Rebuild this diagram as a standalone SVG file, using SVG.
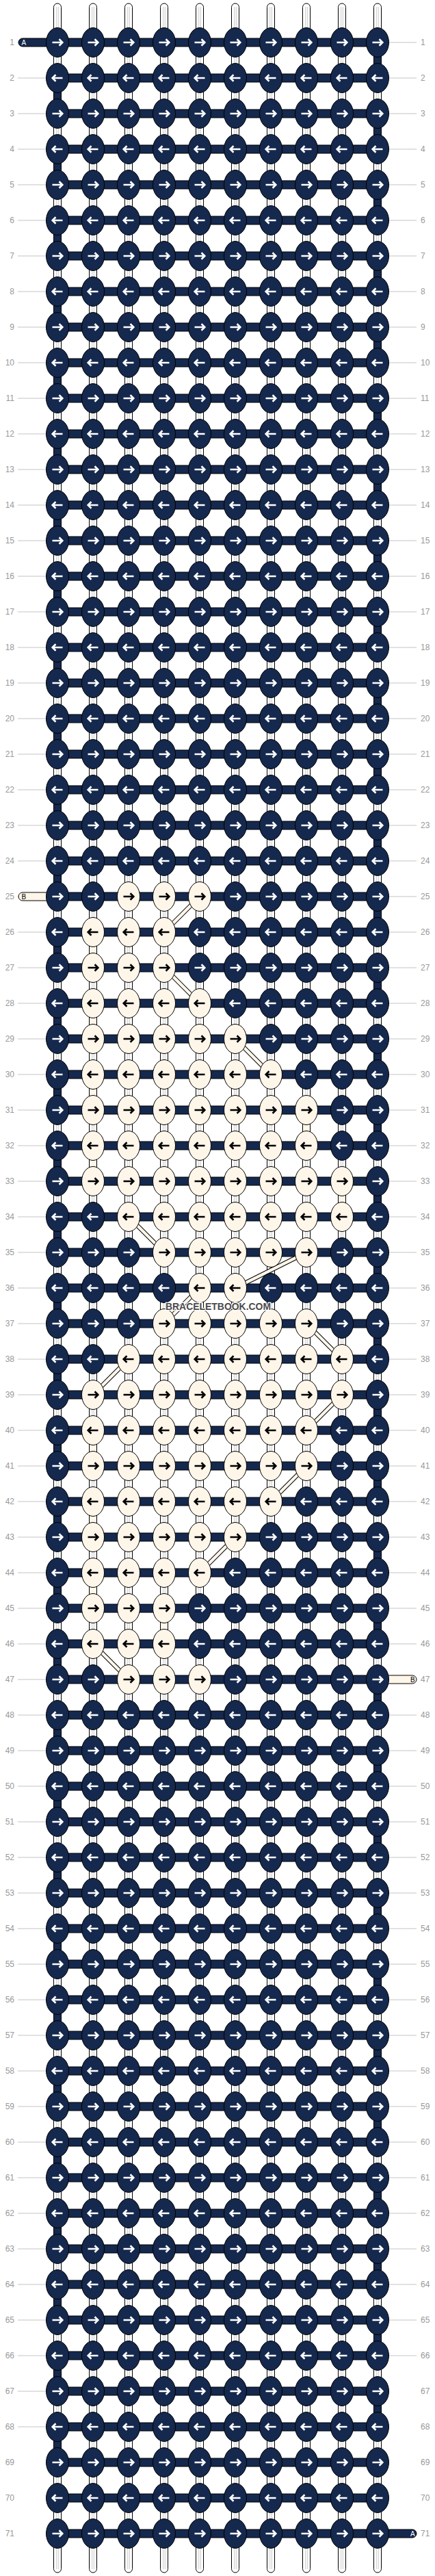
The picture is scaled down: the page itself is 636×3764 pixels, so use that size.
<svg xmlns="http://www.w3.org/2000/svg" width="636" height="3764" viewBox="0 0 636 3764">
<style>
.kn{fill:#15284d;stroke:#000;stroke-width:1}
.kc{fill:#fff6ea;stroke:#000;stroke-width:1}
.aw{fill:none;stroke:#fff;stroke-width:2.6}
.ak{fill:none;stroke:#000;stroke-width:2.6}
.lb{font-family:"Liberation Sans",Arial,sans-serif;font-size:12px;fill:#999}
.le{text-anchor:end}
.ws{fill:#fff;stroke:#000;stroke-width:1}
.wi{fill:none;stroke:#b5b5b5;stroke-width:0.7}
.nv{fill:#15284d;stroke:#000;stroke-width:1}
.cr{fill:#fff6ea;stroke:#000;stroke-width:1}
.gl{fill:none;stroke:#c4c4c4;stroke-width:1}
.tg{font-family:"Liberation Sans",Arial,sans-serif;font-size:10px}
</style>
<defs>
<g id="a"><ellipse rx="16.5" ry="21.5" class="kn"/><path d="M-7.5 0H7M2.5-4.7L7.3 0 2.5 4.7" class="aw"/></g>
<g id="b"><ellipse rx="16.5" ry="21.5" class="kn"/><path d="M7.5 0H-7M-2.5-4.7L-7.3 0-2.5 4.7" class="aw"/></g>
<g id="c"><ellipse rx="16.5" ry="21.5" class="kc"/><path d="M-7.5 0H7M2.5-4.7L7.3 0 2.5 4.7" class="ak"/></g>
<g id="d"><ellipse rx="16.5" ry="21.5" class="kc"/><path d="M7.5 0H-7M-2.5-4.7L-7.3 0-2.5 4.7" class="ak"/></g>
<path id="dg" d="M292 1310L240 1362M240 1414L292 1466M344 1518L396 1570M188 1778L240 1830M448 1830L344 1882M292 1882L240 1934M448 1934L500 1986M188 1986L136 2038M500 2038L448 2090M448 2142L396 2194M344 2246L292 2298M136 2402L188 2454"/>
</defs>
<g id="labels">
<path class="gl" d="M26 62h41m-41 52h41m-41 52h41m-41 52h41m-41 52h41m-41 52h41m-41 52h41m-41 52h41m-41 52h41m-41 52h41m-41 52h41m-41 52h41m-41 52h41m-41 52h41m-41 52h41m-41 52h41m-41 52h41m-41 52h41m-41 52h41m-41 52h41m-41 52h41m-41 52h41m-41 52h41m-41 52h41m-41 52h41m-41 52h41m-41 52h41m-41 52h41m-41 52h41m-41 52h41m-41 52h41m-41 52h41m-41 52h41m-41 52h41m-41 52h41m-41 52h41m-41 52h41m-41 52h41m-41 52h41m-41 52h41m-41 52h41m-41 52h41m-41 52h41m-41 52h41m-41 52h41m-41 52h41m-41 52h41m-41 52h41m-41 52h41m-41 52h41m-41 52h41m-41 52h41m-41 52h41m-41 52h41m-41 52h41m-41 52h41m-41 52h41m-41 52h41m-41 52h41m-41 52h41m-41 52h41m-41 52h41m-41 52h41m-41 52h41m-41 52h41m-41 52h41m-41 52h41m-41 52h41"/>
<path class="gl" d="M569 62h40m-40 52h40m-40 52h40m-40 52h40m-40 52h40m-40 52h40m-40 52h40m-40 52h40m-40 52h40m-40 52h40m-40 52h40m-40 52h40m-40 52h40m-40 52h40m-40 52h40m-40 52h40m-40 52h40m-40 52h40m-40 52h40m-40 52h40m-40 52h40m-40 52h40m-40 52h40m-40 52h40m-40 52h40m-40 52h40m-40 52h40m-40 52h40m-40 52h40m-40 52h40m-40 52h40m-40 52h40m-40 52h40m-40 52h40m-40 52h40m-40 52h40m-40 52h40m-40 52h40m-40 52h40m-40 52h40m-40 52h40m-40 52h40m-40 52h40m-40 52h40m-40 52h40m-40 52h40m-40 52h40m-40 52h40m-40 52h40m-40 52h40m-40 52h40m-40 52h40m-40 52h40m-40 52h40m-40 52h40m-40 52h40m-40 52h40m-40 52h40m-40 52h40m-40 52h40m-40 52h40m-40 52h40m-40 52h40m-40 52h40m-40 52h40m-40 52h40"/>
<g class="lb le">
<text x="21" y="66">1</text><text x="21" y="118">2</text><text x="21" y="170">3</text><text x="21" y="222">4</text><text x="21" y="274">5</text><text x="21" y="326">6</text><text x="21" y="378">7</text><text x="21" y="430">8</text><text x="21" y="482">9</text><text x="21" y="534">10</text>
<text x="21" y="586">11</text><text x="21" y="638">12</text><text x="21" y="690">13</text><text x="21" y="742">14</text><text x="21" y="794">15</text><text x="21" y="846">16</text><text x="21" y="898">17</text><text x="21" y="950">18</text><text x="21" y="1002">19</text><text x="21" y="1054">20</text>
<text x="21" y="1106">21</text><text x="21" y="1158">22</text><text x="21" y="1210">23</text><text x="21" y="1262">24</text><text x="21" y="1314">25</text><text x="21" y="1366">26</text><text x="21" y="1418">27</text><text x="21" y="1470">28</text><text x="21" y="1522">29</text><text x="21" y="1574">30</text>
<text x="21" y="1626">31</text><text x="21" y="1678">32</text><text x="21" y="1730">33</text><text x="21" y="1782">34</text><text x="21" y="1834">35</text><text x="21" y="1886">36</text><text x="21" y="1938">37</text><text x="21" y="1990">38</text><text x="21" y="2042">39</text><text x="21" y="2094">40</text>
<text x="21" y="2146">41</text><text x="21" y="2198">42</text><text x="21" y="2250">43</text><text x="21" y="2302">44</text><text x="21" y="2354">45</text><text x="21" y="2406">46</text><text x="21" y="2458">47</text><text x="21" y="2510">48</text><text x="21" y="2562">49</text><text x="21" y="2614">50</text>
<text x="21" y="2666">51</text><text x="21" y="2718">52</text><text x="21" y="2770">53</text><text x="21" y="2822">54</text><text x="21" y="2874">55</text><text x="21" y="2926">56</text><text x="21" y="2978">57</text><text x="21" y="3030">58</text><text x="21" y="3082">59</text><text x="21" y="3134">60</text>
<text x="21" y="3186">61</text><text x="21" y="3238">62</text><text x="21" y="3290">63</text><text x="21" y="3342">64</text><text x="21" y="3394">65</text><text x="21" y="3446">66</text><text x="21" y="3498">67</text><text x="21" y="3550">68</text><text x="21" y="3602">69</text><text x="21" y="3654">70</text>
<text x="21" y="3706">71</text>
</g>
<g class="lb">
<text x="615" y="66">1</text><text x="615" y="118">2</text><text x="615" y="170">3</text><text x="615" y="222">4</text><text x="615" y="274">5</text><text x="615" y="326">6</text><text x="615" y="378">7</text><text x="615" y="430">8</text><text x="615" y="482">9</text><text x="615" y="534">10</text>
<text x="615" y="586">11</text><text x="615" y="638">12</text><text x="615" y="690">13</text><text x="615" y="742">14</text><text x="615" y="794">15</text><text x="615" y="846">16</text><text x="615" y="898">17</text><text x="615" y="950">18</text><text x="615" y="1002">19</text><text x="615" y="1054">20</text>
<text x="615" y="1106">21</text><text x="615" y="1158">22</text><text x="615" y="1210">23</text><text x="615" y="1262">24</text><text x="615" y="1314">25</text><text x="615" y="1366">26</text><text x="615" y="1418">27</text><text x="615" y="1470">28</text><text x="615" y="1522">29</text><text x="615" y="1574">30</text>
<text x="615" y="1626">31</text><text x="615" y="1678">32</text><text x="615" y="1730">33</text><text x="615" y="1782">34</text><text x="615" y="1834">35</text><text x="615" y="1886">36</text><text x="615" y="1938">37</text><text x="615" y="1990">38</text><text x="615" y="2042">39</text><text x="615" y="2094">40</text>
<text x="615" y="2146">41</text><text x="615" y="2198">42</text><text x="615" y="2250">43</text><text x="615" y="2302">44</text><text x="615" y="2354">45</text><text x="615" y="2406">46</text><text x="615" y="2458">47</text><text x="615" y="2510">48</text><text x="615" y="2562">49</text><text x="615" y="2614">50</text>
<text x="615" y="2666">51</text><text x="615" y="2718">52</text><text x="615" y="2770">53</text><text x="615" y="2822">54</text><text x="615" y="2874">55</text><text x="615" y="2926">56</text><text x="615" y="2978">57</text><text x="615" y="3030">58</text><text x="615" y="3082">59</text><text x="615" y="3134">60</text>
<text x="615" y="3186">61</text><text x="615" y="3238">62</text><text x="615" y="3290">63</text><text x="615" y="3342">64</text><text x="615" y="3394">65</text><text x="615" y="3446">66</text><text x="615" y="3498">67</text><text x="615" y="3550">68</text><text x="615" y="3602">69</text><text x="615" y="3654">70</text>
<text x="615" y="3706">71</text>
</g>
</g>
<g id="connectors">
<g id="base-strands" class="ws">
<rect x="78.5" y="5" width="11" height="3754" rx="5.5"/><rect x="130.5" y="5" width="11" height="3754" rx="5.5"/><rect x="182.5" y="5" width="11" height="3754" rx="5.5"/><rect x="234.5" y="5" width="11" height="3754" rx="5.5"/><rect x="286.5" y="5" width="11" height="3754" rx="5.5"/><rect x="338.5" y="5" width="11" height="3754" rx="5.5"/><rect x="390.5" y="5" width="11" height="3754" rx="5.5"/><rect x="442.5" y="5" width="11" height="3754" rx="5.5"/><rect x="494.5" y="5" width="11" height="3754" rx="5.5"/><rect x="546.5" y="5" width="11" height="3754" rx="5.5"/>
</g>
<path class="wi" d="M82.7 10V3754M85.3 10V3754M134.7 10V3754M137.3 10V3754M186.7 10V3754M189.3 10V3754M238.7 10V3754M241.3 10V3754M290.7 10V3754M293.3 10V3754M342.7 10V3754M345.3 10V3754M394.7 10V3754M397.3 10V3754M446.7 10V3754M449.3 10V3754M498.7 10V3754M501.3 10V3754M550.7 10V3754M553.3 10V3754"/>
<path id="strand-A-turns" class="nv" d="M546.5 62h11v52h-11zm-468 52h11v52h-11zm468 52h11v52h-11zm-468 52h11v52h-11zm468 52h11v52h-11zm-468 52h11v52h-11zm468 52h11v52h-11zm-468 52h11v52h-11zm468 52h11v52h-11zm-468 52h11v52h-11zm468 52h11v52h-11zm-468 52h11v52h-11zm468 52h11v52h-11zm-468 52h11v52h-11zm468 52h11v52h-11zm-468 52h11v52h-11zm468 52h11v52h-11zm-468 52h11v52h-11zm468 52h11v52h-11zm-468 52h11v52h-11zm468 52h11v52h-11zm-468 52h11v52h-11zm468 52h11v52h-11zm-468 52h11v52h-11zm468 52h11v52h-11zm-468 52h11v52h-11zm468 52h11v52h-11zm-468 52h11v52h-11zm468 52h11v52h-11zm-468 52h11v52h-11zm468 52h11v52h-11zm-468 52h11v52h-11zm468 52h11v52h-11zm-468 52h11v52h-11zm468 52h11v52h-11zm-468 52h11v52h-11zm468 52h11v52h-11zm-468 52h11v52h-11zm468 52h11v52h-11zm-468 52h11v52h-11zm468 52h11v52h-11zm-468 52h11v52h-11zm468 52h11v52h-11zm-468 52h11v52h-11zm468 52h11v52h-11zm-468 52h11v52h-11zm468 52h11v52h-11zm-468 52h11v52h-11zm468 52h11v52h-11zm-468 52h11v52h-11zm468 52h11v52h-11zm-468 52h11v52h-11zm468 52h11v52h-11zm-468 52h11v52h-11zm468 52h11v52h-11zm-468 52h11v52h-11zm468 52h11v52h-11zm-468 52h11v52h-11zm468 52h11v52h-11zm-468 52h11v52h-11zm468 52h11v52h-11zm-468 52h11v52h-11zm468 52h11v52h-11zm-468 52h11v52h-11zm468 52h11v52h-11zm-468 52h11v52h-11zm468 52h11v52h-11zm-468 52h11v52h-11z"/>
<path id="strand-B-links" class="cr" d="M130.5 1362h11v52h-11zM130.5 1466h11v52h-11zM130.5 1570h11v52h-11zM130.5 1674h11v52h-11zM130.5 2090h11v52h-11zM130.5 2194h11v52h-11zM130.5 2298h11v52h-11zM442.5 1622h11v52h-11zM494.5 1726h11v52h-11zM234.5 2350h11v52h-11z"/>
<path id="rows-A" class="nv" d="M84 56h468v12H84zm0 52h468v12H84zm0 52h468v12H84zm0 52h468v12H84zm0 52h468v12H84zm0 52h468v12H84zm0 52h468v12H84zm0 52h468v12H84zm0 52h468v12H84zm0 52h468v12H84zm0 52h468v12H84zm0 52h468v12H84zm0 52h468v12H84zm0 52h468v12H84zm0 52h468v12H84zm0 52h468v12H84zm0 52h468v12H84zm0 52h468v12H84zm0 52h468v12H84zm0 52h468v12H84zm0 52h468v12H84zm0 52h468v12H84zm0 52h468v12H84zm0 52h468v12H84zm0 52h468v12H84zm0 52h468v12H84zm0 52h468v12H84zm0 52h468v12H84zm0 52h468v12H84zm0 52h468v12H84zm0 52h468v12H84zm0 52h468v12H84zm0 52h468v12H84zm0 52h468v12H84zm0 52h468v12H84zm0 52h468v12H84zm0 52h468v12H84zm0 52h468v12H84zm0 52h468v12H84zm0 52h468v12H84zm0 52h468v12H84zm0 52h468v12H84zm0 52h468v12H84zm0 52h468v12H84zm0 52h468v12H84zm0 52h468v12H84zm0 52h468v12H84zm0 52h468v12H84zm0 52h468v12H84zm0 52h468v12H84zm0 52h468v12H84zm0 52h468v12H84zm0 52h468v12H84zm0 52h468v12H84zm0 52h468v12H84zm0 52h468v12H84zm0 52h468v12H84zm0 52h468v12H84zm0 52h468v12H84zm0 52h468v12H84zm0 52h468v12H84zm0 52h468v12H84zm0 52h468v12H84zm0 52h468v12H84zm0 52h468v12H84zm0 52h468v12H84zm0 52h468v12H84zm0 52h468v12H84zm0 52h468v12H84zm0 52h468v12H84zm0 52h468v12H84z"/>
<path id="end-A-in" class="nv" d="M84 56H33a6 6 0 0 0 0 12H84z"/>
<path id="end-A-out" class="nv" d="M552 3696H603a6 6 0 0 1 0 12H552z"/>
<path id="end-B-in" class="cr" d="M84 1304H33a6 6 0 0 0 0 12H84z"/>
<path id="end-B-out" class="cr" d="M552 2448H603a6 6 0 0 1 0 12H552z"/>
<use href="#dg" fill="none" stroke="#000" stroke-width="6.5"/>
<use href="#dg" fill="none" stroke="#fff6ea" stroke-width="4.5"/>
</g>
<g id="knots">
<g id="row1" transform="translate(0 62)"><use id="k1-1" href="#a" x="84"/><use id="k1-2" href="#a" x="136"/><use id="k1-3" href="#a" x="188"/><use id="k1-4" href="#a" x="240"/><use id="k1-5" href="#a" x="292"/><use id="k1-6" href="#a" x="344"/><use id="k1-7" href="#a" x="396"/><use id="k1-8" href="#a" x="448"/><use id="k1-9" href="#a" x="500"/><use id="k1-10" href="#a" x="552"/></g>
<g id="row2" transform="translate(0 114)"><use id="k2-1" href="#b" x="84"/><use id="k2-2" href="#b" x="136"/><use id="k2-3" href="#b" x="188"/><use id="k2-4" href="#b" x="240"/><use id="k2-5" href="#b" x="292"/><use id="k2-6" href="#b" x="344"/><use id="k2-7" href="#b" x="396"/><use id="k2-8" href="#b" x="448"/><use id="k2-9" href="#b" x="500"/><use id="k2-10" href="#b" x="552"/></g>
<g id="row3" transform="translate(0 166)"><use id="k3-1" href="#a" x="84"/><use id="k3-2" href="#a" x="136"/><use id="k3-3" href="#a" x="188"/><use id="k3-4" href="#a" x="240"/><use id="k3-5" href="#a" x="292"/><use id="k3-6" href="#a" x="344"/><use id="k3-7" href="#a" x="396"/><use id="k3-8" href="#a" x="448"/><use id="k3-9" href="#a" x="500"/><use id="k3-10" href="#a" x="552"/></g>
<g id="row4" transform="translate(0 218)"><use id="k4-1" href="#b" x="84"/><use id="k4-2" href="#b" x="136"/><use id="k4-3" href="#b" x="188"/><use id="k4-4" href="#b" x="240"/><use id="k4-5" href="#b" x="292"/><use id="k4-6" href="#b" x="344"/><use id="k4-7" href="#b" x="396"/><use id="k4-8" href="#b" x="448"/><use id="k4-9" href="#b" x="500"/><use id="k4-10" href="#b" x="552"/></g>
<g id="row5" transform="translate(0 270)"><use id="k5-1" href="#a" x="84"/><use id="k5-2" href="#a" x="136"/><use id="k5-3" href="#a" x="188"/><use id="k5-4" href="#a" x="240"/><use id="k5-5" href="#a" x="292"/><use id="k5-6" href="#a" x="344"/><use id="k5-7" href="#a" x="396"/><use id="k5-8" href="#a" x="448"/><use id="k5-9" href="#a" x="500"/><use id="k5-10" href="#a" x="552"/></g>
<g id="row6" transform="translate(0 322)"><use id="k6-1" href="#b" x="84"/><use id="k6-2" href="#b" x="136"/><use id="k6-3" href="#b" x="188"/><use id="k6-4" href="#b" x="240"/><use id="k6-5" href="#b" x="292"/><use id="k6-6" href="#b" x="344"/><use id="k6-7" href="#b" x="396"/><use id="k6-8" href="#b" x="448"/><use id="k6-9" href="#b" x="500"/><use id="k6-10" href="#b" x="552"/></g>
<g id="row7" transform="translate(0 374)"><use id="k7-1" href="#a" x="84"/><use id="k7-2" href="#a" x="136"/><use id="k7-3" href="#a" x="188"/><use id="k7-4" href="#a" x="240"/><use id="k7-5" href="#a" x="292"/><use id="k7-6" href="#a" x="344"/><use id="k7-7" href="#a" x="396"/><use id="k7-8" href="#a" x="448"/><use id="k7-9" href="#a" x="500"/><use id="k7-10" href="#a" x="552"/></g>
<g id="row8" transform="translate(0 426)"><use id="k8-1" href="#b" x="84"/><use id="k8-2" href="#b" x="136"/><use id="k8-3" href="#b" x="188"/><use id="k8-4" href="#b" x="240"/><use id="k8-5" href="#b" x="292"/><use id="k8-6" href="#b" x="344"/><use id="k8-7" href="#b" x="396"/><use id="k8-8" href="#b" x="448"/><use id="k8-9" href="#b" x="500"/><use id="k8-10" href="#b" x="552"/></g>
<g id="row9" transform="translate(0 478)"><use id="k9-1" href="#a" x="84"/><use id="k9-2" href="#a" x="136"/><use id="k9-3" href="#a" x="188"/><use id="k9-4" href="#a" x="240"/><use id="k9-5" href="#a" x="292"/><use id="k9-6" href="#a" x="344"/><use id="k9-7" href="#a" x="396"/><use id="k9-8" href="#a" x="448"/><use id="k9-9" href="#a" x="500"/><use id="k9-10" href="#a" x="552"/></g>
<g id="row10" transform="translate(0 530)"><use id="k10-1" href="#b" x="84"/><use id="k10-2" href="#b" x="136"/><use id="k10-3" href="#b" x="188"/><use id="k10-4" href="#b" x="240"/><use id="k10-5" href="#b" x="292"/><use id="k10-6" href="#b" x="344"/><use id="k10-7" href="#b" x="396"/><use id="k10-8" href="#b" x="448"/><use id="k10-9" href="#b" x="500"/><use id="k10-10" href="#b" x="552"/></g>
<g id="row11" transform="translate(0 582)"><use id="k11-1" href="#a" x="84"/><use id="k11-2" href="#a" x="136"/><use id="k11-3" href="#a" x="188"/><use id="k11-4" href="#a" x="240"/><use id="k11-5" href="#a" x="292"/><use id="k11-6" href="#a" x="344"/><use id="k11-7" href="#a" x="396"/><use id="k11-8" href="#a" x="448"/><use id="k11-9" href="#a" x="500"/><use id="k11-10" href="#a" x="552"/></g>
<g id="row12" transform="translate(0 634)"><use id="k12-1" href="#b" x="84"/><use id="k12-2" href="#b" x="136"/><use id="k12-3" href="#b" x="188"/><use id="k12-4" href="#b" x="240"/><use id="k12-5" href="#b" x="292"/><use id="k12-6" href="#b" x="344"/><use id="k12-7" href="#b" x="396"/><use id="k12-8" href="#b" x="448"/><use id="k12-9" href="#b" x="500"/><use id="k12-10" href="#b" x="552"/></g>
<g id="row13" transform="translate(0 686)"><use id="k13-1" href="#a" x="84"/><use id="k13-2" href="#a" x="136"/><use id="k13-3" href="#a" x="188"/><use id="k13-4" href="#a" x="240"/><use id="k13-5" href="#a" x="292"/><use id="k13-6" href="#a" x="344"/><use id="k13-7" href="#a" x="396"/><use id="k13-8" href="#a" x="448"/><use id="k13-9" href="#a" x="500"/><use id="k13-10" href="#a" x="552"/></g>
<g id="row14" transform="translate(0 738)"><use id="k14-1" href="#b" x="84"/><use id="k14-2" href="#b" x="136"/><use id="k14-3" href="#b" x="188"/><use id="k14-4" href="#b" x="240"/><use id="k14-5" href="#b" x="292"/><use id="k14-6" href="#b" x="344"/><use id="k14-7" href="#b" x="396"/><use id="k14-8" href="#b" x="448"/><use id="k14-9" href="#b" x="500"/><use id="k14-10" href="#b" x="552"/></g>
<g id="row15" transform="translate(0 790)"><use id="k15-1" href="#a" x="84"/><use id="k15-2" href="#a" x="136"/><use id="k15-3" href="#a" x="188"/><use id="k15-4" href="#a" x="240"/><use id="k15-5" href="#a" x="292"/><use id="k15-6" href="#a" x="344"/><use id="k15-7" href="#a" x="396"/><use id="k15-8" href="#a" x="448"/><use id="k15-9" href="#a" x="500"/><use id="k15-10" href="#a" x="552"/></g>
<g id="row16" transform="translate(0 842)"><use id="k16-1" href="#b" x="84"/><use id="k16-2" href="#b" x="136"/><use id="k16-3" href="#b" x="188"/><use id="k16-4" href="#b" x="240"/><use id="k16-5" href="#b" x="292"/><use id="k16-6" href="#b" x="344"/><use id="k16-7" href="#b" x="396"/><use id="k16-8" href="#b" x="448"/><use id="k16-9" href="#b" x="500"/><use id="k16-10" href="#b" x="552"/></g>
<g id="row17" transform="translate(0 894)"><use id="k17-1" href="#a" x="84"/><use id="k17-2" href="#a" x="136"/><use id="k17-3" href="#a" x="188"/><use id="k17-4" href="#a" x="240"/><use id="k17-5" href="#a" x="292"/><use id="k17-6" href="#a" x="344"/><use id="k17-7" href="#a" x="396"/><use id="k17-8" href="#a" x="448"/><use id="k17-9" href="#a" x="500"/><use id="k17-10" href="#a" x="552"/></g>
<g id="row18" transform="translate(0 946)"><use id="k18-1" href="#b" x="84"/><use id="k18-2" href="#b" x="136"/><use id="k18-3" href="#b" x="188"/><use id="k18-4" href="#b" x="240"/><use id="k18-5" href="#b" x="292"/><use id="k18-6" href="#b" x="344"/><use id="k18-7" href="#b" x="396"/><use id="k18-8" href="#b" x="448"/><use id="k18-9" href="#b" x="500"/><use id="k18-10" href="#b" x="552"/></g>
<g id="row19" transform="translate(0 998)"><use id="k19-1" href="#a" x="84"/><use id="k19-2" href="#a" x="136"/><use id="k19-3" href="#a" x="188"/><use id="k19-4" href="#a" x="240"/><use id="k19-5" href="#a" x="292"/><use id="k19-6" href="#a" x="344"/><use id="k19-7" href="#a" x="396"/><use id="k19-8" href="#a" x="448"/><use id="k19-9" href="#a" x="500"/><use id="k19-10" href="#a" x="552"/></g>
<g id="row20" transform="translate(0 1050)"><use id="k20-1" href="#b" x="84"/><use id="k20-2" href="#b" x="136"/><use id="k20-3" href="#b" x="188"/><use id="k20-4" href="#b" x="240"/><use id="k20-5" href="#b" x="292"/><use id="k20-6" href="#b" x="344"/><use id="k20-7" href="#b" x="396"/><use id="k20-8" href="#b" x="448"/><use id="k20-9" href="#b" x="500"/><use id="k20-10" href="#b" x="552"/></g>
<g id="row21" transform="translate(0 1102)"><use id="k21-1" href="#a" x="84"/><use id="k21-2" href="#a" x="136"/><use id="k21-3" href="#a" x="188"/><use id="k21-4" href="#a" x="240"/><use id="k21-5" href="#a" x="292"/><use id="k21-6" href="#a" x="344"/><use id="k21-7" href="#a" x="396"/><use id="k21-8" href="#a" x="448"/><use id="k21-9" href="#a" x="500"/><use id="k21-10" href="#a" x="552"/></g>
<g id="row22" transform="translate(0 1154)"><use id="k22-1" href="#b" x="84"/><use id="k22-2" href="#b" x="136"/><use id="k22-3" href="#b" x="188"/><use id="k22-4" href="#b" x="240"/><use id="k22-5" href="#b" x="292"/><use id="k22-6" href="#b" x="344"/><use id="k22-7" href="#b" x="396"/><use id="k22-8" href="#b" x="448"/><use id="k22-9" href="#b" x="500"/><use id="k22-10" href="#b" x="552"/></g>
<g id="row23" transform="translate(0 1206)"><use id="k23-1" href="#a" x="84"/><use id="k23-2" href="#a" x="136"/><use id="k23-3" href="#a" x="188"/><use id="k23-4" href="#a" x="240"/><use id="k23-5" href="#a" x="292"/><use id="k23-6" href="#a" x="344"/><use id="k23-7" href="#a" x="396"/><use id="k23-8" href="#a" x="448"/><use id="k23-9" href="#a" x="500"/><use id="k23-10" href="#a" x="552"/></g>
<g id="row24" transform="translate(0 1258)"><use id="k24-1" href="#b" x="84"/><use id="k24-2" href="#b" x="136"/><use id="k24-3" href="#b" x="188"/><use id="k24-4" href="#b" x="240"/><use id="k24-5" href="#b" x="292"/><use id="k24-6" href="#b" x="344"/><use id="k24-7" href="#b" x="396"/><use id="k24-8" href="#b" x="448"/><use id="k24-9" href="#b" x="500"/><use id="k24-10" href="#b" x="552"/></g>
<g id="row25" transform="translate(0 1310)"><use id="k25-1" href="#a" x="84"/><use id="k25-2" href="#a" x="136"/><use id="k25-3" href="#c" x="188"/><use id="k25-4" href="#c" x="240"/><use id="k25-5" href="#c" x="292"/><use id="k25-6" href="#a" x="344"/><use id="k25-7" href="#a" x="396"/><use id="k25-8" href="#a" x="448"/><use id="k25-9" href="#a" x="500"/><use id="k25-10" href="#a" x="552"/></g>
<g id="row26" transform="translate(0 1362)"><use id="k26-1" href="#b" x="84"/><use id="k26-2" href="#d" x="136"/><use id="k26-3" href="#d" x="188"/><use id="k26-4" href="#d" x="240"/><use id="k26-5" href="#b" x="292"/><use id="k26-6" href="#b" x="344"/><use id="k26-7" href="#b" x="396"/><use id="k26-8" href="#b" x="448"/><use id="k26-9" href="#b" x="500"/><use id="k26-10" href="#b" x="552"/></g>
<g id="row27" transform="translate(0 1414)"><use id="k27-1" href="#a" x="84"/><use id="k27-2" href="#c" x="136"/><use id="k27-3" href="#c" x="188"/><use id="k27-4" href="#c" x="240"/><use id="k27-5" href="#a" x="292"/><use id="k27-6" href="#a" x="344"/><use id="k27-7" href="#a" x="396"/><use id="k27-8" href="#a" x="448"/><use id="k27-9" href="#a" x="500"/><use id="k27-10" href="#a" x="552"/></g>
<g id="row28" transform="translate(0 1466)"><use id="k28-1" href="#b" x="84"/><use id="k28-2" href="#d" x="136"/><use id="k28-3" href="#d" x="188"/><use id="k28-4" href="#d" x="240"/><use id="k28-5" href="#d" x="292"/><use id="k28-6" href="#b" x="344"/><use id="k28-7" href="#b" x="396"/><use id="k28-8" href="#b" x="448"/><use id="k28-9" href="#b" x="500"/><use id="k28-10" href="#b" x="552"/></g>
<g id="row29" transform="translate(0 1518)"><use id="k29-1" href="#a" x="84"/><use id="k29-2" href="#c" x="136"/><use id="k29-3" href="#c" x="188"/><use id="k29-4" href="#c" x="240"/><use id="k29-5" href="#c" x="292"/><use id="k29-6" href="#c" x="344"/><use id="k29-7" href="#a" x="396"/><use id="k29-8" href="#a" x="448"/><use id="k29-9" href="#a" x="500"/><use id="k29-10" href="#a" x="552"/></g>
<g id="row30" transform="translate(0 1570)"><use id="k30-1" href="#b" x="84"/><use id="k30-2" href="#d" x="136"/><use id="k30-3" href="#d" x="188"/><use id="k30-4" href="#d" x="240"/><use id="k30-5" href="#d" x="292"/><use id="k30-6" href="#d" x="344"/><use id="k30-7" href="#d" x="396"/><use id="k30-8" href="#b" x="448"/><use id="k30-9" href="#b" x="500"/><use id="k30-10" href="#b" x="552"/></g>
<g id="row31" transform="translate(0 1622)"><use id="k31-1" href="#a" x="84"/><use id="k31-2" href="#c" x="136"/><use id="k31-3" href="#c" x="188"/><use id="k31-4" href="#c" x="240"/><use id="k31-5" href="#c" x="292"/><use id="k31-6" href="#c" x="344"/><use id="k31-7" href="#c" x="396"/><use id="k31-8" href="#c" x="448"/><use id="k31-9" href="#a" x="500"/><use id="k31-10" href="#a" x="552"/></g>
<g id="row32" transform="translate(0 1674)"><use id="k32-1" href="#b" x="84"/><use id="k32-2" href="#d" x="136"/><use id="k32-3" href="#d" x="188"/><use id="k32-4" href="#d" x="240"/><use id="k32-5" href="#d" x="292"/><use id="k32-6" href="#d" x="344"/><use id="k32-7" href="#d" x="396"/><use id="k32-8" href="#d" x="448"/><use id="k32-9" href="#b" x="500"/><use id="k32-10" href="#b" x="552"/></g>
<g id="row33" transform="translate(0 1726)"><use id="k33-1" href="#a" x="84"/><use id="k33-2" href="#c" x="136"/><use id="k33-3" href="#c" x="188"/><use id="k33-4" href="#c" x="240"/><use id="k33-5" href="#c" x="292"/><use id="k33-6" href="#c" x="344"/><use id="k33-7" href="#c" x="396"/><use id="k33-8" href="#c" x="448"/><use id="k33-9" href="#c" x="500"/><use id="k33-10" href="#a" x="552"/></g>
<g id="row34" transform="translate(0 1778)"><use id="k34-1" href="#b" x="84"/><use id="k34-2" href="#b" x="136"/><use id="k34-3" href="#d" x="188"/><use id="k34-4" href="#d" x="240"/><use id="k34-5" href="#d" x="292"/><use id="k34-6" href="#d" x="344"/><use id="k34-7" href="#d" x="396"/><use id="k34-8" href="#d" x="448"/><use id="k34-9" href="#d" x="500"/><use id="k34-10" href="#b" x="552"/></g>
<g id="row35" transform="translate(0 1830)"><use id="k35-1" href="#a" x="84"/><use id="k35-2" href="#a" x="136"/><use id="k35-3" href="#a" x="188"/><use id="k35-4" href="#c" x="240"/><use id="k35-5" href="#c" x="292"/><use id="k35-6" href="#c" x="344"/><use id="k35-7" href="#c" x="396"/><use id="k35-8" href="#c" x="448"/><use id="k35-9" href="#a" x="500"/><use id="k35-10" href="#a" x="552"/></g>
<g id="row36" transform="translate(0 1882)"><use id="k36-1" href="#b" x="84"/><use id="k36-2" href="#b" x="136"/><use id="k36-3" href="#b" x="188"/><use id="k36-4" href="#b" x="240"/><use id="k36-5" href="#d" x="292"/><use id="k36-6" href="#d" x="344"/><use id="k36-7" href="#b" x="396"/><use id="k36-8" href="#b" x="448"/><use id="k36-9" href="#b" x="500"/><use id="k36-10" href="#b" x="552"/></g>
<g id="row37" transform="translate(0 1934)"><use id="k37-1" href="#a" x="84"/><use id="k37-2" href="#a" x="136"/><use id="k37-3" href="#a" x="188"/><use id="k37-4" href="#c" x="240"/><use id="k37-5" href="#c" x="292"/><use id="k37-6" href="#c" x="344"/><use id="k37-7" href="#c" x="396"/><use id="k37-8" href="#c" x="448"/><use id="k37-9" href="#a" x="500"/><use id="k37-10" href="#a" x="552"/></g>
<g id="row38" transform="translate(0 1986)"><use id="k38-1" href="#b" x="84"/><use id="k38-2" href="#b" x="136"/><use id="k38-3" href="#d" x="188"/><use id="k38-4" href="#d" x="240"/><use id="k38-5" href="#d" x="292"/><use id="k38-6" href="#d" x="344"/><use id="k38-7" href="#d" x="396"/><use id="k38-8" href="#d" x="448"/><use id="k38-9" href="#d" x="500"/><use id="k38-10" href="#b" x="552"/></g>
<g id="row39" transform="translate(0 2038)"><use id="k39-1" href="#a" x="84"/><use id="k39-2" href="#c" x="136"/><use id="k39-3" href="#c" x="188"/><use id="k39-4" href="#c" x="240"/><use id="k39-5" href="#c" x="292"/><use id="k39-6" href="#c" x="344"/><use id="k39-7" href="#c" x="396"/><use id="k39-8" href="#c" x="448"/><use id="k39-9" href="#c" x="500"/><use id="k39-10" href="#a" x="552"/></g>
<g id="row40" transform="translate(0 2090)"><use id="k40-1" href="#b" x="84"/><use id="k40-2" href="#d" x="136"/><use id="k40-3" href="#d" x="188"/><use id="k40-4" href="#d" x="240"/><use id="k40-5" href="#d" x="292"/><use id="k40-6" href="#d" x="344"/><use id="k40-7" href="#d" x="396"/><use id="k40-8" href="#d" x="448"/><use id="k40-9" href="#b" x="500"/><use id="k40-10" href="#b" x="552"/></g>
<g id="row41" transform="translate(0 2142)"><use id="k41-1" href="#a" x="84"/><use id="k41-2" href="#c" x="136"/><use id="k41-3" href="#c" x="188"/><use id="k41-4" href="#c" x="240"/><use id="k41-5" href="#c" x="292"/><use id="k41-6" href="#c" x="344"/><use id="k41-7" href="#c" x="396"/><use id="k41-8" href="#c" x="448"/><use id="k41-9" href="#a" x="500"/><use id="k41-10" href="#a" x="552"/></g>
<g id="row42" transform="translate(0 2194)"><use id="k42-1" href="#b" x="84"/><use id="k42-2" href="#d" x="136"/><use id="k42-3" href="#d" x="188"/><use id="k42-4" href="#d" x="240"/><use id="k42-5" href="#d" x="292"/><use id="k42-6" href="#d" x="344"/><use id="k42-7" href="#d" x="396"/><use id="k42-8" href="#b" x="448"/><use id="k42-9" href="#b" x="500"/><use id="k42-10" href="#b" x="552"/></g>
<g id="row43" transform="translate(0 2246)"><use id="k43-1" href="#a" x="84"/><use id="k43-2" href="#c" x="136"/><use id="k43-3" href="#c" x="188"/><use id="k43-4" href="#c" x="240"/><use id="k43-5" href="#c" x="292"/><use id="k43-6" href="#c" x="344"/><use id="k43-7" href="#a" x="396"/><use id="k43-8" href="#a" x="448"/><use id="k43-9" href="#a" x="500"/><use id="k43-10" href="#a" x="552"/></g>
<g id="row44" transform="translate(0 2298)"><use id="k44-1" href="#b" x="84"/><use id="k44-2" href="#d" x="136"/><use id="k44-3" href="#d" x="188"/><use id="k44-4" href="#d" x="240"/><use id="k44-5" href="#d" x="292"/><use id="k44-6" href="#b" x="344"/><use id="k44-7" href="#b" x="396"/><use id="k44-8" href="#b" x="448"/><use id="k44-9" href="#b" x="500"/><use id="k44-10" href="#b" x="552"/></g>
<g id="row45" transform="translate(0 2350)"><use id="k45-1" href="#a" x="84"/><use id="k45-2" href="#c" x="136"/><use id="k45-3" href="#c" x="188"/><use id="k45-4" href="#c" x="240"/><use id="k45-5" href="#a" x="292"/><use id="k45-6" href="#a" x="344"/><use id="k45-7" href="#a" x="396"/><use id="k45-8" href="#a" x="448"/><use id="k45-9" href="#a" x="500"/><use id="k45-10" href="#a" x="552"/></g>
<g id="row46" transform="translate(0 2402)"><use id="k46-1" href="#b" x="84"/><use id="k46-2" href="#d" x="136"/><use id="k46-3" href="#d" x="188"/><use id="k46-4" href="#d" x="240"/><use id="k46-5" href="#b" x="292"/><use id="k46-6" href="#b" x="344"/><use id="k46-7" href="#b" x="396"/><use id="k46-8" href="#b" x="448"/><use id="k46-9" href="#b" x="500"/><use id="k46-10" href="#b" x="552"/></g>
<g id="row47" transform="translate(0 2454)"><use id="k47-1" href="#a" x="84"/><use id="k47-2" href="#a" x="136"/><use id="k47-3" href="#c" x="188"/><use id="k47-4" href="#c" x="240"/><use id="k47-5" href="#c" x="292"/><use id="k47-6" href="#a" x="344"/><use id="k47-7" href="#a" x="396"/><use id="k47-8" href="#a" x="448"/><use id="k47-9" href="#a" x="500"/><use id="k47-10" href="#a" x="552"/></g>
<g id="row48" transform="translate(0 2506)"><use id="k48-1" href="#b" x="84"/><use id="k48-2" href="#b" x="136"/><use id="k48-3" href="#b" x="188"/><use id="k48-4" href="#b" x="240"/><use id="k48-5" href="#b" x="292"/><use id="k48-6" href="#b" x="344"/><use id="k48-7" href="#b" x="396"/><use id="k48-8" href="#b" x="448"/><use id="k48-9" href="#b" x="500"/><use id="k48-10" href="#b" x="552"/></g>
<g id="row49" transform="translate(0 2558)"><use id="k49-1" href="#a" x="84"/><use id="k49-2" href="#a" x="136"/><use id="k49-3" href="#a" x="188"/><use id="k49-4" href="#a" x="240"/><use id="k49-5" href="#a" x="292"/><use id="k49-6" href="#a" x="344"/><use id="k49-7" href="#a" x="396"/><use id="k49-8" href="#a" x="448"/><use id="k49-9" href="#a" x="500"/><use id="k49-10" href="#a" x="552"/></g>
<g id="row50" transform="translate(0 2610)"><use id="k50-1" href="#b" x="84"/><use id="k50-2" href="#b" x="136"/><use id="k50-3" href="#b" x="188"/><use id="k50-4" href="#b" x="240"/><use id="k50-5" href="#b" x="292"/><use id="k50-6" href="#b" x="344"/><use id="k50-7" href="#b" x="396"/><use id="k50-8" href="#b" x="448"/><use id="k50-9" href="#b" x="500"/><use id="k50-10" href="#b" x="552"/></g>
<g id="row51" transform="translate(0 2662)"><use id="k51-1" href="#a" x="84"/><use id="k51-2" href="#a" x="136"/><use id="k51-3" href="#a" x="188"/><use id="k51-4" href="#a" x="240"/><use id="k51-5" href="#a" x="292"/><use id="k51-6" href="#a" x="344"/><use id="k51-7" href="#a" x="396"/><use id="k51-8" href="#a" x="448"/><use id="k51-9" href="#a" x="500"/><use id="k51-10" href="#a" x="552"/></g>
<g id="row52" transform="translate(0 2714)"><use id="k52-1" href="#b" x="84"/><use id="k52-2" href="#b" x="136"/><use id="k52-3" href="#b" x="188"/><use id="k52-4" href="#b" x="240"/><use id="k52-5" href="#b" x="292"/><use id="k52-6" href="#b" x="344"/><use id="k52-7" href="#b" x="396"/><use id="k52-8" href="#b" x="448"/><use id="k52-9" href="#b" x="500"/><use id="k52-10" href="#b" x="552"/></g>
<g id="row53" transform="translate(0 2766)"><use id="k53-1" href="#a" x="84"/><use id="k53-2" href="#a" x="136"/><use id="k53-3" href="#a" x="188"/><use id="k53-4" href="#a" x="240"/><use id="k53-5" href="#a" x="292"/><use id="k53-6" href="#a" x="344"/><use id="k53-7" href="#a" x="396"/><use id="k53-8" href="#a" x="448"/><use id="k53-9" href="#a" x="500"/><use id="k53-10" href="#a" x="552"/></g>
<g id="row54" transform="translate(0 2818)"><use id="k54-1" href="#b" x="84"/><use id="k54-2" href="#b" x="136"/><use id="k54-3" href="#b" x="188"/><use id="k54-4" href="#b" x="240"/><use id="k54-5" href="#b" x="292"/><use id="k54-6" href="#b" x="344"/><use id="k54-7" href="#b" x="396"/><use id="k54-8" href="#b" x="448"/><use id="k54-9" href="#b" x="500"/><use id="k54-10" href="#b" x="552"/></g>
<g id="row55" transform="translate(0 2870)"><use id="k55-1" href="#a" x="84"/><use id="k55-2" href="#a" x="136"/><use id="k55-3" href="#a" x="188"/><use id="k55-4" href="#a" x="240"/><use id="k55-5" href="#a" x="292"/><use id="k55-6" href="#a" x="344"/><use id="k55-7" href="#a" x="396"/><use id="k55-8" href="#a" x="448"/><use id="k55-9" href="#a" x="500"/><use id="k55-10" href="#a" x="552"/></g>
<g id="row56" transform="translate(0 2922)"><use id="k56-1" href="#b" x="84"/><use id="k56-2" href="#b" x="136"/><use id="k56-3" href="#b" x="188"/><use id="k56-4" href="#b" x="240"/><use id="k56-5" href="#b" x="292"/><use id="k56-6" href="#b" x="344"/><use id="k56-7" href="#b" x="396"/><use id="k56-8" href="#b" x="448"/><use id="k56-9" href="#b" x="500"/><use id="k56-10" href="#b" x="552"/></g>
<g id="row57" transform="translate(0 2974)"><use id="k57-1" href="#a" x="84"/><use id="k57-2" href="#a" x="136"/><use id="k57-3" href="#a" x="188"/><use id="k57-4" href="#a" x="240"/><use id="k57-5" href="#a" x="292"/><use id="k57-6" href="#a" x="344"/><use id="k57-7" href="#a" x="396"/><use id="k57-8" href="#a" x="448"/><use id="k57-9" href="#a" x="500"/><use id="k57-10" href="#a" x="552"/></g>
<g id="row58" transform="translate(0 3026)"><use id="k58-1" href="#b" x="84"/><use id="k58-2" href="#b" x="136"/><use id="k58-3" href="#b" x="188"/><use id="k58-4" href="#b" x="240"/><use id="k58-5" href="#b" x="292"/><use id="k58-6" href="#b" x="344"/><use id="k58-7" href="#b" x="396"/><use id="k58-8" href="#b" x="448"/><use id="k58-9" href="#b" x="500"/><use id="k58-10" href="#b" x="552"/></g>
<g id="row59" transform="translate(0 3078)"><use id="k59-1" href="#a" x="84"/><use id="k59-2" href="#a" x="136"/><use id="k59-3" href="#a" x="188"/><use id="k59-4" href="#a" x="240"/><use id="k59-5" href="#a" x="292"/><use id="k59-6" href="#a" x="344"/><use id="k59-7" href="#a" x="396"/><use id="k59-8" href="#a" x="448"/><use id="k59-9" href="#a" x="500"/><use id="k59-10" href="#a" x="552"/></g>
<g id="row60" transform="translate(0 3130)"><use id="k60-1" href="#b" x="84"/><use id="k60-2" href="#b" x="136"/><use id="k60-3" href="#b" x="188"/><use id="k60-4" href="#b" x="240"/><use id="k60-5" href="#b" x="292"/><use id="k60-6" href="#b" x="344"/><use id="k60-7" href="#b" x="396"/><use id="k60-8" href="#b" x="448"/><use id="k60-9" href="#b" x="500"/><use id="k60-10" href="#b" x="552"/></g>
<g id="row61" transform="translate(0 3182)"><use id="k61-1" href="#a" x="84"/><use id="k61-2" href="#a" x="136"/><use id="k61-3" href="#a" x="188"/><use id="k61-4" href="#a" x="240"/><use id="k61-5" href="#a" x="292"/><use id="k61-6" href="#a" x="344"/><use id="k61-7" href="#a" x="396"/><use id="k61-8" href="#a" x="448"/><use id="k61-9" href="#a" x="500"/><use id="k61-10" href="#a" x="552"/></g>
<g id="row62" transform="translate(0 3234)"><use id="k62-1" href="#b" x="84"/><use id="k62-2" href="#b" x="136"/><use id="k62-3" href="#b" x="188"/><use id="k62-4" href="#b" x="240"/><use id="k62-5" href="#b" x="292"/><use id="k62-6" href="#b" x="344"/><use id="k62-7" href="#b" x="396"/><use id="k62-8" href="#b" x="448"/><use id="k62-9" href="#b" x="500"/><use id="k62-10" href="#b" x="552"/></g>
<g id="row63" transform="translate(0 3286)"><use id="k63-1" href="#a" x="84"/><use id="k63-2" href="#a" x="136"/><use id="k63-3" href="#a" x="188"/><use id="k63-4" href="#a" x="240"/><use id="k63-5" href="#a" x="292"/><use id="k63-6" href="#a" x="344"/><use id="k63-7" href="#a" x="396"/><use id="k63-8" href="#a" x="448"/><use id="k63-9" href="#a" x="500"/><use id="k63-10" href="#a" x="552"/></g>
<g id="row64" transform="translate(0 3338)"><use id="k64-1" href="#b" x="84"/><use id="k64-2" href="#b" x="136"/><use id="k64-3" href="#b" x="188"/><use id="k64-4" href="#b" x="240"/><use id="k64-5" href="#b" x="292"/><use id="k64-6" href="#b" x="344"/><use id="k64-7" href="#b" x="396"/><use id="k64-8" href="#b" x="448"/><use id="k64-9" href="#b" x="500"/><use id="k64-10" href="#b" x="552"/></g>
<g id="row65" transform="translate(0 3390)"><use id="k65-1" href="#a" x="84"/><use id="k65-2" href="#a" x="136"/><use id="k65-3" href="#a" x="188"/><use id="k65-4" href="#a" x="240"/><use id="k65-5" href="#a" x="292"/><use id="k65-6" href="#a" x="344"/><use id="k65-7" href="#a" x="396"/><use id="k65-8" href="#a" x="448"/><use id="k65-9" href="#a" x="500"/><use id="k65-10" href="#a" x="552"/></g>
<g id="row66" transform="translate(0 3442)"><use id="k66-1" href="#b" x="84"/><use id="k66-2" href="#b" x="136"/><use id="k66-3" href="#b" x="188"/><use id="k66-4" href="#b" x="240"/><use id="k66-5" href="#b" x="292"/><use id="k66-6" href="#b" x="344"/><use id="k66-7" href="#b" x="396"/><use id="k66-8" href="#b" x="448"/><use id="k66-9" href="#b" x="500"/><use id="k66-10" href="#b" x="552"/></g>
<g id="row67" transform="translate(0 3494)"><use id="k67-1" href="#a" x="84"/><use id="k67-2" href="#a" x="136"/><use id="k67-3" href="#a" x="188"/><use id="k67-4" href="#a" x="240"/><use id="k67-5" href="#a" x="292"/><use id="k67-6" href="#a" x="344"/><use id="k67-7" href="#a" x="396"/><use id="k67-8" href="#a" x="448"/><use id="k67-9" href="#a" x="500"/><use id="k67-10" href="#a" x="552"/></g>
<g id="row68" transform="translate(0 3546)"><use id="k68-1" href="#b" x="84"/><use id="k68-2" href="#b" x="136"/><use id="k68-3" href="#b" x="188"/><use id="k68-4" href="#b" x="240"/><use id="k68-5" href="#b" x="292"/><use id="k68-6" href="#b" x="344"/><use id="k68-7" href="#b" x="396"/><use id="k68-8" href="#b" x="448"/><use id="k68-9" href="#b" x="500"/><use id="k68-10" href="#b" x="552"/></g>
<g id="row69" transform="translate(0 3598)"><use id="k69-1" href="#a" x="84"/><use id="k69-2" href="#a" x="136"/><use id="k69-3" href="#a" x="188"/><use id="k69-4" href="#a" x="240"/><use id="k69-5" href="#a" x="292"/><use id="k69-6" href="#a" x="344"/><use id="k69-7" href="#a" x="396"/><use id="k69-8" href="#a" x="448"/><use id="k69-9" href="#a" x="500"/><use id="k69-10" href="#a" x="552"/></g>
<g id="row70" transform="translate(0 3650)"><use id="k70-1" href="#b" x="84"/><use id="k70-2" href="#b" x="136"/><use id="k70-3" href="#b" x="188"/><use id="k70-4" href="#b" x="240"/><use id="k70-5" href="#b" x="292"/><use id="k70-6" href="#b" x="344"/><use id="k70-7" href="#b" x="396"/><use id="k70-8" href="#b" x="448"/><use id="k70-9" href="#b" x="500"/><use id="k70-10" href="#b" x="552"/></g>
<g id="row71" transform="translate(0 3702)"><use id="k71-1" href="#a" x="84"/><use id="k71-2" href="#a" x="136"/><use id="k71-3" href="#a" x="188"/><use id="k71-4" href="#a" x="240"/><use id="k71-5" href="#a" x="292"/><use id="k71-6" href="#a" x="344"/><use id="k71-7" href="#a" x="396"/><use id="k71-8" href="#a" x="448"/><use id="k71-9" href="#a" x="500"/><use id="k71-10" href="#a" x="552"/></g>
</g>
<g id="strand-tags" class="tg">
<text x="31.5" y="65.6" fill="#fff">A</text>
<text x="31.5" y="1313.6" fill="#000">B</text>
<text x="600" y="2457.6" fill="#000">B</text>
<text x="600" y="3705.6" fill="#fff">A</text>
</g>
<text id="watermark" x="242" y="1913.5" textLength="154" lengthAdjust="spacingAndGlyphs" font-family="'Liberation Sans',Arial,sans-serif" font-size="15" font-weight="bold" fill="#4a4a4a" stroke="#fff" stroke-width="2.5" paint-order="stroke">BRACELETBOOK.COM</text>
</svg>
